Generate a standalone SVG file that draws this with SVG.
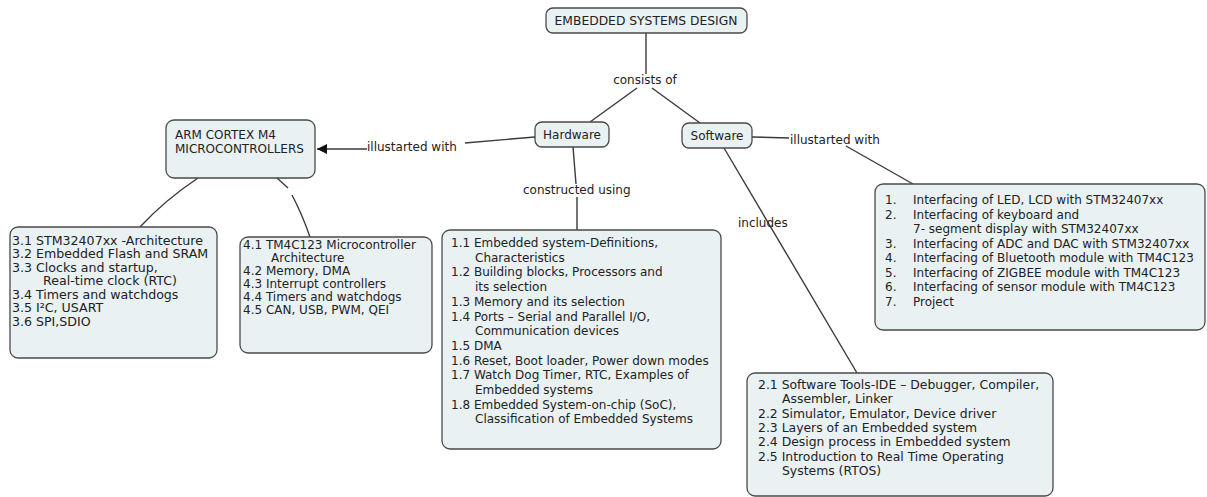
<svg xmlns="http://www.w3.org/2000/svg" width="1207" height="497" viewBox="0 0 1207 497">
<style>
  .box { fill: #e9f1f3; stroke: #4a4a4a; stroke-width: 1.3; }
  .t { font-family: "DejaVu Sans", Verdana, sans-serif; font-size: 12px; fill: #222; }
  .t3 { font-size: 12.6px; }
  .lbl { font-family: "DejaVu Sans", Verdana, sans-serif; font-size: 12px; fill: #222; }
  .ln { stroke: #3a3a3a; stroke-width: 1.4; fill: none; }
</style>
<defs>
  <marker id="arr" markerWidth="12" markerHeight="12" refX="10" refY="5" orient="auto" markerUnits="userSpaceOnUse">
    <path d="M0,0 L10,5 L0,10 Z" fill="#111"/>
  </marker>
</defs>
<rect width="1207" height="497" fill="#ffffff"/>

<g id="connectors">
  <path class="ln" d="M646,33 L646,74"/>
  <path class="ln" d="M637,88 L590,122"/>
  <path class="ln" d="M652,88 L700,123"/>
  <path class="ln" d="M535,137 L465,143"/>
  <path class="ln" d="M367,149 L317,149" marker-end="url(#arr)"/>
  <path class="ln" d="M573,147 L576,184"/>
  <path class="ln" d="M577,197 L577,230"/>
  <path class="ln" d="M752,137 L789,138"/>
  <path class="ln" d="M846,146 L913,184"/>
  <path class="ln" d="M724,148 L857,373"/>
  <path class="ln" d="M198,178 Q165,200 140,227"/>
  <path class="ln" d="M277,178 L288,188"/>
  <path class="ln" d="M292,195 Q302,214 310,237"/>
  <text class="lbl" x="645" y="84" text-anchor="middle">consists of</text>
  <text class="lbl" x="367" y="151">illustarted with</text>
  <text class="lbl" x="790" y="144">illustarted with</text>
  <text class="lbl" x="523" y="194">constructed using</text>
  <text class="lbl" x="738" y="227">includes</text>
</g>

<g id="n-root">
  <rect class="box" x="546" y="8" width="201" height="25" rx="7"/>
  <text class="t" x="646" y="25" text-anchor="middle" style="font-size:12.3px">EMBEDDED SYSTEMS DESIGN</text>
</g>

<g id="n-hardware">
  <rect class="box" x="535" y="122" width="74" height="25" rx="7"/>
  <text class="t" x="572" y="138.5" text-anchor="middle">Hardware</text>
</g>

<g id="n-software">
  <rect class="box" x="682" y="123" width="70" height="25" rx="7"/>
  <text class="t" x="717" y="139.5" text-anchor="middle">Software</text>
</g>

<g id="n-arm">
  <rect class="box" x="166" y="120" width="149" height="58" rx="8"/>
  <text class="t" x="175" y="139">ARM CORTEX M4</text>
  <text class="t" x="175" y="153">MICROCONTROLLERS</text>
</g>

<g id="n-stm">
  <rect class="box" x="10" y="227" width="207" height="131" rx="8"/>
  <text class="t t3" x="12" y="244.5">3.1 STM32407xx -Architecture</text>
  <text class="t t3" x="12" y="258">3.2 Embedded Flash and SRAM</text>
  <text class="t t3" x="12" y="271.5">3.3 Clocks and startup,</text>
  <text class="t t3" x="43" y="285">Real-time clock (RTC)</text>
  <text class="t t3" x="12" y="298.5">3.4 Timers and watchdogs</text>
  <text class="t t3" x="12" y="312">3.5 I²C,  USART</text>
  <text class="t t3" x="12" y="325.5">3.6 SPI,SDIO</text>
</g>

<g id="n-tm4c">
  <rect class="box" x="240" y="237" width="192" height="116" rx="8"/>
  <text class="t" x="243" y="249">4.1 TM4C123 Microcontroller</text>
  <text class="t" x="271" y="262">Architecture</text>
  <text class="t" x="243" y="275">4.2 Memory, DMA</text>
  <text class="t" x="243" y="288">4.3 Interrupt controllers</text>
  <text class="t" x="243" y="301">4.4 Timers and watchdogs</text>
  <text class="t" x="243" y="314">4.5 CAN, USB, PWM, QEI</text>
</g>

<g id="n-hw-topics">
  <rect class="box" x="442" y="230" width="279" height="219" rx="8"/>
  <text class="t" x="451" y="247">1.1 Embedded system-Definitions,</text>
  <text class="t" x="475" y="261.7">Characteristics</text>
  <text class="t" x="451" y="276.4">1.2 Building blocks, Processors and</text>
  <text class="t" x="475" y="291.1">its selection</text>
  <text class="t" x="451" y="305.8">1.3 Memory and its selection</text>
  <text class="t" x="451" y="320.5">1.4 Ports – Serial and Parallel I/O,</text>
  <text class="t" x="475" y="335.2">Communication devices</text>
  <text class="t" x="451" y="349.9">1.5 DMA</text>
  <text class="t" x="451" y="364.6">1.6 Reset, Boot loader, Power down modes</text>
  <text class="t" x="451" y="379.3">1.7 Watch Dog Timer, RTC, Examples of</text>
  <text class="t" x="475" y="394">Embedded systems</text>
  <text class="t" x="451" y="408.7">1.8 Embedded System-on-chip (SoC),</text>
  <text class="t" x="475" y="423.4">Classification of Embedded Systems</text>
</g>

<g id="n-labs">
  <rect class="box" x="875" y="184" width="330" height="146" rx="8"/>
  <text class="t" x="885" y="204">1.</text>
  <text class="t" x="913" y="204">Interfacing of LED, LCD with STM32407xx</text>
  <text class="t" x="885" y="218.5">2.</text>
  <text class="t" x="913" y="218.5">Interfacing of keyboard and</text>
  <text class="t" x="913" y="233">7- segment display with STM32407xx</text>
  <text class="t" x="885" y="247.5">3.</text>
  <text class="t" x="913" y="247.5">Interfacing of ADC and DAC with STM32407xx</text>
  <text class="t" x="885" y="262">4.</text>
  <text class="t" x="913" y="262">Interfacing of Bluetooth module with TM4C123</text>
  <text class="t" x="885" y="276.5">5.</text>
  <text class="t" x="913" y="276.5">Interfacing of ZIGBEE module with TM4C123</text>
  <text class="t" x="885" y="291">6.</text>
  <text class="t" x="913" y="291">Interfacing of sensor module with TM4C123</text>
  <text class="t" x="885" y="305.5">7.</text>
  <text class="t" x="913" y="305.5">Project</text>
</g>

<g id="n-sw-topics">
  <rect class="box" x="747" y="373" width="306" height="123" rx="8"/>
  <text class="t" x="758" y="389" style="font-size:12.4px">2.1 Software Tools-IDE – Debugger, Compiler,</text>
  <text class="t" x="782" y="403.3" style="font-size:12.4px">Assembler, Linker</text>
  <text class="t" x="758" y="417.6" style="font-size:12.4px">2.2 Simulator, Emulator, Device driver</text>
  <text class="t" x="758" y="431.9" style="font-size:12.4px">2.3 Layers of an Embedded system</text>
  <text class="t" x="758" y="446.2" style="font-size:12.4px">2.4 Design process in Embedded system</text>
  <text class="t" x="758" y="460.5" style="font-size:12.4px">2.5 Introduction to Real Time Operating</text>
  <text class="t" x="782" y="474.8" style="font-size:12.4px">Systems (RTOS)</text>
</g>
</svg>
